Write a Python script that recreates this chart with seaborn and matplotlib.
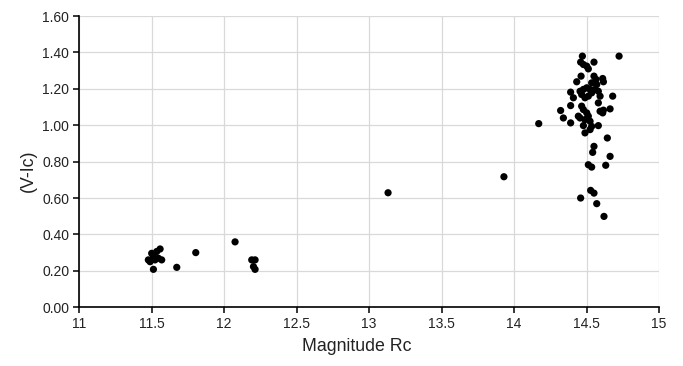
import numpy as np
import pandas as pd
import matplotlib
matplotlib.use("Agg")
import matplotlib.pyplot as plt
import seaborn as sns

# Magnitude Rc values
mag_rc = [
    # faint-end group near 11.5
    11.559, 11.536, 11.501, 11.513, 11.478, 11.490, 11.524, 11.547, 11.570, 11.513,
    11.674, 11.805, 12.076, 12.191, 12.214, 12.203, 12.214,
    # isolated points
    13.131, 13.930, 14.170,
    # bright cluster near 14.5
    14.471, 14.724, 14.459, 14.478, 14.501, 14.512, 14.551, 14.462, 14.432, 14.551,
    14.565, 14.611, 14.616, 14.535, 14.570, 14.390, 14.409, 14.455, 14.478, 14.501,
    14.524, 14.535, 14.558, 14.581, 14.593, 14.680, 14.512, 14.489, 14.466, 14.390,
    14.321, 14.340, 14.390, 14.466, 14.478, 14.501, 14.512, 14.455, 14.443, 14.489,
    14.524, 14.535, 14.478, 14.489, 14.524, 14.581, 14.593, 14.611, 14.616, 14.662,
    14.581, 14.643, 14.551, 14.542, 14.662, 14.512, 14.535, 14.632,
    14.528, 14.551, 14.459, 14.570, 14.620,
]

# (V-Ic) colour index for each point
v_ic = [
    0.320, 0.306, 0.296, 0.278, 0.260, 0.250, 0.260, 0.269, 0.260, 0.208,
    0.219, 0.300, 0.359, 0.260, 0.260, 0.223, 0.208,
    0.629, 0.717, 1.009,
    1.380, 1.380, 1.347, 1.334, 1.325, 1.310, 1.347, 1.270, 1.239, 1.270,
    1.252, 1.257, 1.239, 1.233, 1.224, 1.182, 1.151, 1.187, 1.197, 1.206,
    1.197, 1.178, 1.197, 1.187, 1.160, 1.160, 1.160, 1.151, 1.169, 1.108,
    1.081, 1.040, 1.013, 1.105, 1.086, 1.068, 1.050, 1.040, 1.050, 1.031,
    1.022, 0.994, 0.998, 0.958, 0.976, 0.998, 1.077, 1.068, 1.083, 1.090,
    1.123, 0.930, 0.884, 0.851, 0.829, 0.783, 0.770, 0.780,
    0.642, 0.627, 0.600, 0.569, 0.499,
]

x_ticks = [11, 11.5, 12, 12.5, 13, 13.5, 14, 14.5, 15]
x_tick_labels = ["11", "11.5", "12", "12.5", "13", "13.5", "14", "14.5", "15"]
y_ticks = [0.0, 0.2, 0.4, 0.6, 0.8, 1.0, 1.2, 1.4, 1.6]

df = pd.DataFrame({"mag": mag_rc, "vic": v_ic})

sns.set_style("white")
plt.rcParams["font.family"] = ["Liberation Sans", "DejaVu Sans"]

fig = plt.figure(figsize=(6.83, 3.66), dpi=100)
ax = fig.add_axes([0.1157, 0.1607, 0.8493, 0.7953])

sns.scatterplot(data=df, x="mag", y="vic", ax=ax, color="black",
                s=27, edgecolor="none", zorder=3)

ax.set_xlim(11, 15)
ax.set_ylim(0, 1.6)
ax.set_xticks(x_ticks)
ax.set_xticklabels(x_tick_labels)
ax.set_yticks(y_ticks)
ax.set_yticklabels([f"{v:.2f}" for v in y_ticks])

ax.grid(True, color="#d9d9d9", linewidth=0.9)
ax.set_axisbelow(True)
for side in ["top", "right"]:
    ax.spines[side].set_visible(False)
for side in ["left", "bottom"]:
    ax.spines[side].set_color("black")
    ax.spines[side].set_linewidth(1.2)
    ax.spines[side].set_zorder(4)

ax.tick_params(axis="both", direction="out", length=4, width=1.1,
               color="black", labelsize=10, labelcolor="#222222", pad=3,
               left=True, bottom=True)

ax.set_xlabel("Magnitude Rc", fontsize=12.8, color="#222222", labelpad=5)
ax.xaxis.label.set_x(0.479)
ax.set_ylabel("(V-Ic)", fontsize=12.8, color="#222222")
ax.yaxis.set_label_coords(-0.072, 0.467)

fig.savefig("out.png", dpi=100)
